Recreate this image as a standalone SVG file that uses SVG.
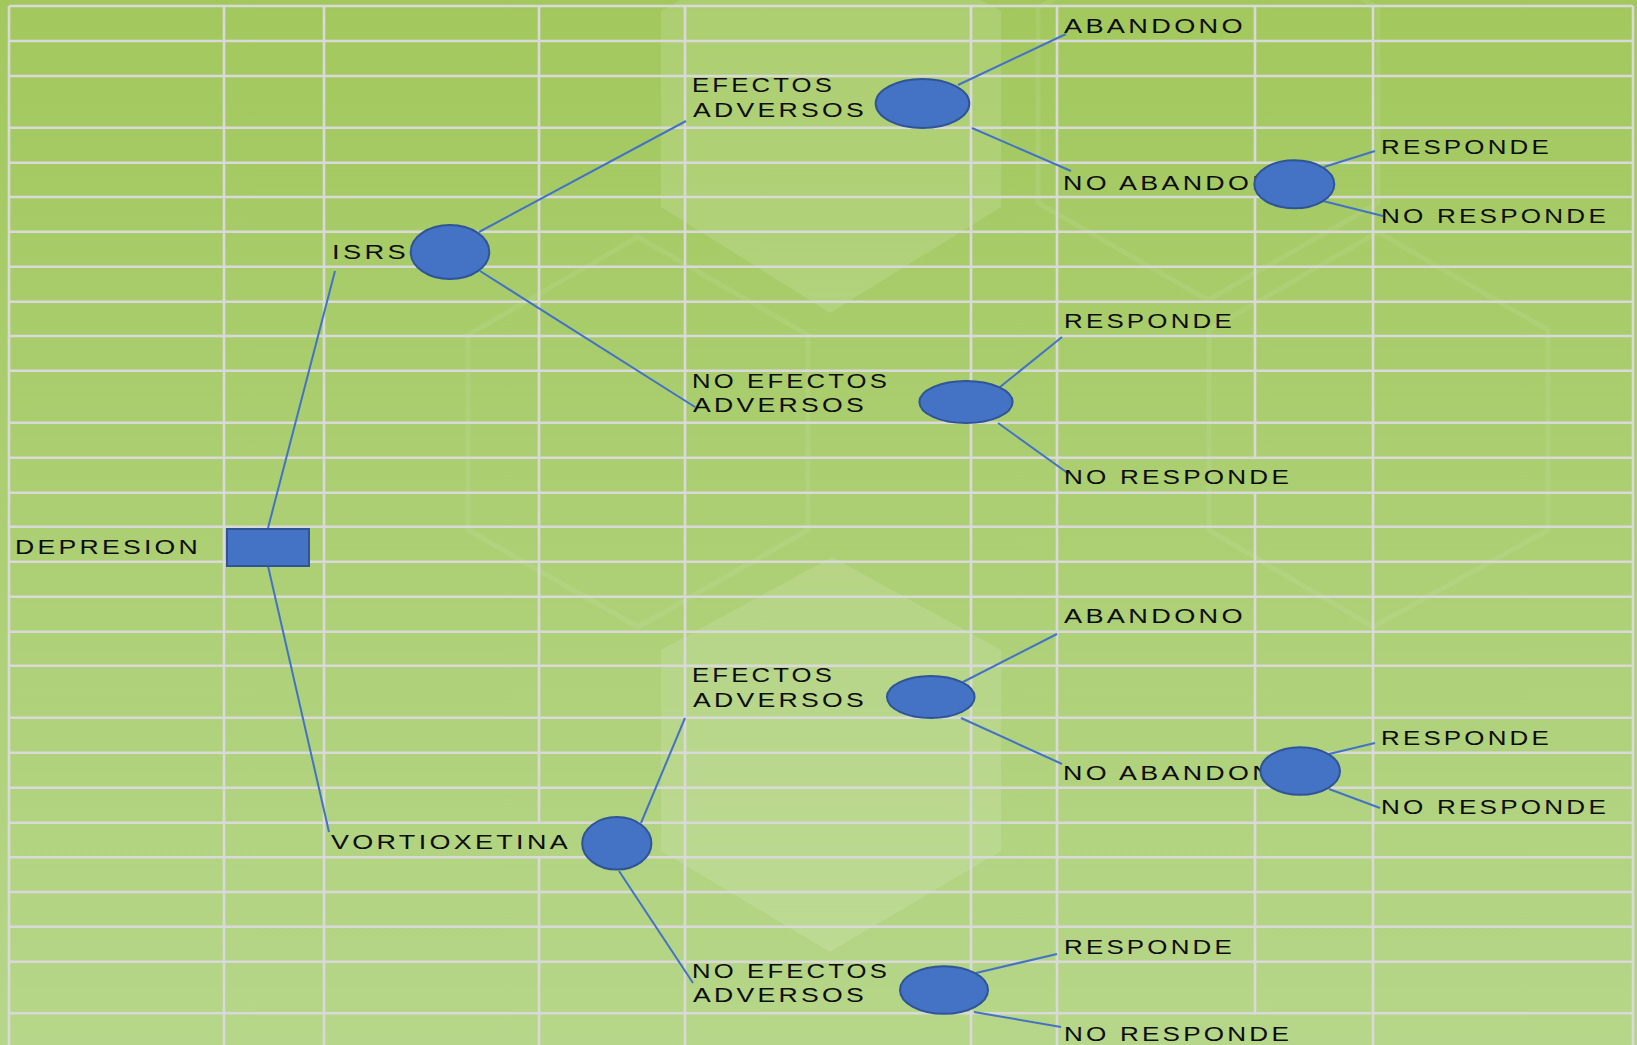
<svg xmlns="http://www.w3.org/2000/svg" width="1637" height="1045" viewBox="0 0 1637 1045">
<defs>
<linearGradient id="bg" x1="0" y1="0" x2="0" y2="1">
<stop offset="0" stop-color="#a2c85d"/>
<stop offset="1" stop-color="#b6d689"/>
</linearGradient>
<style>
.grid{stroke:#d9d9d9;stroke-width:2.6;fill:none}
.hexf{fill:#ffffff;fill-opacity:0.12;stroke:none}
.hexo{fill:none;stroke:#ffffff;stroke-opacity:0.08;stroke-width:5}
.edge{stroke:#4472c4;stroke-width:2;fill:none}
.chance{fill:#4472c4;stroke:#2f5597;stroke-width:2}
.decision{fill:#4472c4;stroke:#2f5597;stroke-width:2}
text{font-family:"Liberation Sans",Arial,sans-serif;font-size:19.5px;letter-spacing:2.4px;fill:#0d0d0d}
</style>
</defs>
<rect x="0" y="0" width="1637" height="1045" fill="url(#bg)"/>
<g id="decoration">
<polygon class="hexf" points="830,-82 1001,11 1001,207 830,313 661,207 661,11"/>
<polygon class="hexf" points="832,557 1001,650 1001,851 830,952 661,851 661,650"/>
<polygon class="hexo" points="638,237 808,335 808,530 638,627 468,530 468,335"/>
<polygon class="hexo" points="1378,232 1548,330 1548,530 1373,627 1209,530 1209,330"/>
<polygon class="hexo" points="1208,-90 1378,8 1378,203 1208,300 1038,203 1038,8"/>
</g>
<g id="grid">
<path class="grid" d="M9,6H1633 M9,41H1633 M9,76H1633 M9,127.7H1633 M9,162.7H1633 M9,197H1633 M9,231.7H1633 M9,266.7H1633 M9,301.7H1633 M9,336H1633 M9,370.7H1633 M9,422.7H1633 M9,457.7H1633 M9,492.7H1633 M9,526.7H1633 M9,561.7H1633 M9,596.7H1633 M9,631.7H1633 M9,665.7H1633 M9,717.7H1633 M9,752.7H1633 M9,787.7H1633 M9,822.7H1633 M9,857.3H1633 M9,892H1633 M9,926.7H1633 M9,961.7H1633 M9,1013.3H1633"/>
<path class="grid" d="M9,6V1045 M224,6V1045 M324,6V1045 M539,6V822.7 M539,857.3V1045 M685,6V1045 M971,6V1045 M1057,6V1045 M1255,6V162.7 M1255,197V457.7 M1255,492.7V752.7 M1255,787.7V1013.3 M1373,6V1045 M1633,6V1045"/>
</g>
<g id="connectors">
<line class="edge" x1="268" y1="528" x2="335" y2="271"/>
<line class="edge" x1="268" y1="566" x2="329" y2="832"/>
<line class="edge" x1="479" y1="232" x2="686" y2="121"/>
<line class="edge" x1="480" y1="271" x2="695" y2="407"/>
<line class="edge" x1="958" y1="85" x2="1066" y2="34"/>
<line class="edge" x1="972" y1="128" x2="1071" y2="171"/>
<line class="edge" x1="1324" y1="167" x2="1375" y2="151"/>
<line class="edge" x1="1323" y1="201" x2="1383" y2="216"/>
<line class="edge" x1="1000" y1="387" x2="1062" y2="337"/>
<line class="edge" x1="998" y1="423" x2="1069" y2="474"/>
<line class="edge" x1="641" y1="823" x2="685" y2="718"/>
<line class="edge" x1="619" y1="871" x2="693" y2="983"/>
<line class="edge" x1="963" y1="682" x2="1057" y2="634"/>
<line class="edge" x1="961" y1="718" x2="1062" y2="764"/>
<line class="edge" x1="1329" y1="754" x2="1375" y2="743"/>
<line class="edge" x1="1329" y1="789" x2="1380" y2="808"/>
<line class="edge" x1="976" y1="973" x2="1057" y2="954"/>
<line class="edge" x1="974" y1="1012" x2="1061" y2="1027"/>
</g>
<g id="node-depresion">
<text x="15" y="554" textLength="186" lengthAdjust="spacingAndGlyphs">DEPRESION</text>
<rect class="decision" x="227" y="529" width="82" height="37"/>
</g>
<g id="node-isrs">
<text x="332" y="259" textLength="77" lengthAdjust="spacingAndGlyphs">ISRS</text>
<ellipse class="chance" cx="450" cy="252" rx="39.3" ry="27"/>
</g>
<g id="node-isrs-efectos">
<text x="692" y="91.7" textLength="143" lengthAdjust="spacingAndGlyphs">EFECTOS</text>
<text x="693" y="116.7" textLength="174" lengthAdjust="spacingAndGlyphs">ADVERSOS</text>
<ellipse class="chance" cx="922.5" cy="103.5" rx="46.8" ry="24.5"/>
</g>
<g id="node-isrs-abandono">
<text x="1064" y="33.3" textLength="182" lengthAdjust="spacingAndGlyphs">ABANDONO</text>
</g>
<g id="node-isrs-no-abandono">
<text x="1063" y="190" textLength="236" lengthAdjust="spacingAndGlyphs">NO ABANDONO</text>
<ellipse class="chance" cx="1294.3" cy="184.3" rx="40" ry="24"/>
</g>
<g id="node-isrs-na-responde">
<text x="1381" y="154.3" textLength="171" lengthAdjust="spacingAndGlyphs">RESPONDE</text>
</g>
<g id="node-isrs-na-no-responde">
<text x="1381" y="223.3" textLength="228" lengthAdjust="spacingAndGlyphs">NO RESPONDE</text>
</g>
<g id="node-isrs-no-efectos">
<text x="692" y="387.7" textLength="198" lengthAdjust="spacingAndGlyphs">NO EFECTOS</text>
<text x="693" y="411.7" textLength="174" lengthAdjust="spacingAndGlyphs">ADVERSOS</text>
<ellipse class="chance" cx="966" cy="402" rx="46.6" ry="21"/>
</g>
<g id="node-isrs-ne-responde">
<text x="1064" y="328.3" textLength="171" lengthAdjust="spacingAndGlyphs">RESPONDE</text>
</g>
<g id="node-isrs-ne-no-responde">
<text x="1064" y="484" textLength="228" lengthAdjust="spacingAndGlyphs">NO RESPONDE</text>
</g>
<g id="node-vortioxetina">
<text x="331" y="849.3" textLength="240" lengthAdjust="spacingAndGlyphs">VORTIOXETINA</text>
<ellipse class="chance" cx="616.8" cy="843.3" rx="34.6" ry="26.3"/>
</g>
<g id="node-vort-efectos">
<text x="692" y="682.3" textLength="143" lengthAdjust="spacingAndGlyphs">EFECTOS</text>
<text x="693" y="706.7" textLength="174" lengthAdjust="spacingAndGlyphs">ADVERSOS</text>
<ellipse class="chance" cx="930.8" cy="697" rx="43.8" ry="21"/>
</g>
<g id="node-vort-abandono">
<text x="1064" y="623.3" textLength="182" lengthAdjust="spacingAndGlyphs">ABANDONO</text>
</g>
<g id="node-vort-no-abandono">
<text x="1063" y="780" textLength="236" lengthAdjust="spacingAndGlyphs">NO ABANDONO</text>
<ellipse class="chance" cx="1300.2" cy="771" rx="39.8" ry="23.8"/>
</g>
<g id="node-vort-na-responde">
<text x="1381" y="745" textLength="171" lengthAdjust="spacingAndGlyphs">RESPONDE</text>
</g>
<g id="node-vort-na-no-responde">
<text x="1381" y="814.3" textLength="228" lengthAdjust="spacingAndGlyphs">NO RESPONDE</text>
</g>
<g id="node-vort-no-efectos">
<text x="692" y="978.3" textLength="198" lengthAdjust="spacingAndGlyphs">NO EFECTOS</text>
<text x="693" y="1001.7" textLength="174" lengthAdjust="spacingAndGlyphs">ADVERSOS</text>
<ellipse class="chance" cx="944" cy="990" rx="44" ry="23.8"/>
</g>
<g id="node-vort-ne-responde">
<text x="1064" y="954" textLength="171" lengthAdjust="spacingAndGlyphs">RESPONDE</text>
</g>
<g id="node-vort-ne-no-responde">
<text x="1064" y="1040.7" textLength="228" lengthAdjust="spacingAndGlyphs">NO RESPONDE</text>
</g>
</svg>
